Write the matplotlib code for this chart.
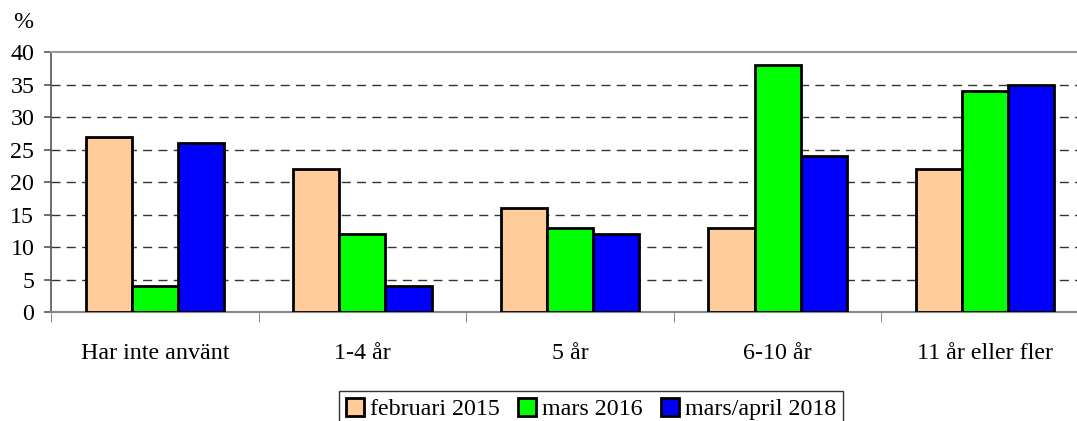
import numpy as np
import matplotlib
matplotlib.use("Agg")
from matplotlib import pyplot as plt

categories = ["Har inte använt", "1-4 år", "5 år", "6-10 år", "11 år eller fler"]
series_names = ["februari 2015", "mars 2016", "mars/april 2018"]
feb_2015 = [27, 22, 16, 13, 22]
mars_2016 = [4, 12, 13, 38, 34]
mars_apr_2018 = [26, 4, 12, 24, 35]
colors = ["#ffcc99", "#00ff00", "#0000ff"]

plt.rcParams['font.family'] = ['Liberation Serif', 'DejaVu Serif']
fs = 17.3

fig = plt.figure(figsize=(10.77, 4.21), dpi=100)
ax = fig.add_axes([51/1077, 1 - 312/421, (1089 - 51)/1077, 260/421])

x = np.arange(len(categories))
w = 0.222
for i, vals in enumerate([feb_2015, mars_2016, mars_apr_2018]):
    ax.bar(x + (i - 1) * w, vals, w, color=colors[i], edgecolor="black",
           linewidth=2, label=series_names[i], zorder=3)

ax.set_xlim(-0.5, len(categories) - 0.5)
ax.set_ylim(0, 40)
ax.set_yticks(range(0, 41, 5))
ax.tick_params(axis='y', labelsize=fs, length=5, width=1.2, color="#555555", pad=7)
ax.set_xticks(x)
ax.set_xticklabels(categories, fontsize=fs)
ax.tick_params(axis='x', length=0, pad=22)
# boundary ticks between groups
ax.set_xticks(np.arange(-0.5, len(categories), 1.0), minor=True)
ax.tick_params(axis='x', which='minor', length=7, color="#777777", direction='out')

for yv in range(5, 40, 5):
    ax.axhline(yv, color="#333333", linestyle=(0, (6.5, 4.5)), linewidth=1, zorder=1)

ax.spines['right'].set_visible(False)
ax.spines['top'].set_color("#999999")
ax.spines['top'].set_linewidth(1.5)
ax.spines['left'].set_color("#555555")
ax.spines['left'].set_linewidth(1.2)
ax.spines['bottom'].set_color("#888888")
ax.spines['bottom'].set_linewidth(1.5)

fig.text(13/1077, 1 - 22/421, "%", fontsize=fs, ha='left', va='center')

leg = fig.legend(loc='center', bbox_to_anchor=(591/1077, 1 - 409/421), ncol=3,
                 fontsize=fs, frameon=True, fancybox=False, edgecolor="black",
                 handlelength=0.75, handleheight=0.75, handletextpad=0.25,
                 columnspacing=0.75, borderpad=0.3)
leg.get_frame().set_linewidth(1)

fig.savefig("out.png", dpi=100)
